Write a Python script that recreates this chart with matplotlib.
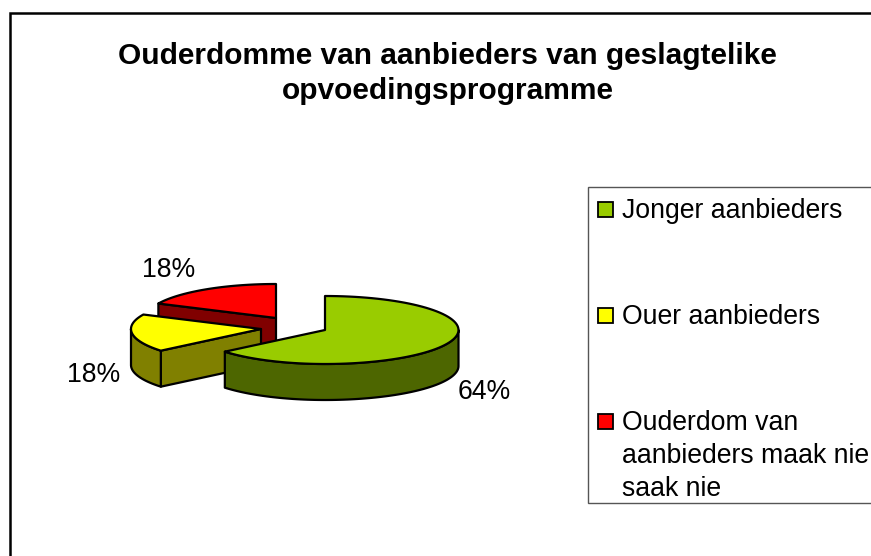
import numpy as np
import matplotlib
matplotlib.use("Agg")
import matplotlib.pyplot as plt
from matplotlib.patches import Polygon, Rectangle

title = "Ouderdomme van aanbieders van geslagtelike\nopvoedingsprogramme"
categories = ["Jonger aanbieders", "Ouer aanbieders", "Ouderdom van\naanbieders maak nie\nsaak nie"]
values = [64, 18, 18]
top_colors = ["#99CC00", "#FFFF00", "#FF0000"]
side_colors = ["#4D6600", "#808000", "#800000"]
centers = [(325, 330), (261, 329), (276, 318)]
label_pos = [(484, 392), (94, 375), (169, 270)]
legend_swatch_y = [210, 316, 422]
legend_text_y = [210.5, 316.5, 422.5]

plt.rcParams["font.family"] = ["Liberation Sans", "DejaVu Sans"]
fig = plt.figure(figsize=(8.71, 5.56), dpi=100)
ax = fig.add_axes([0, 0, 1, 1])
ax.set_xlim(0, 871)
ax.set_ylim(556, 0)
ax.axis("off")

RX_RIGHT, RX_LEFT, RY, DEPTH = 133.5, 130, 34, 36
EC = dict(edgecolor="black", linewidth=1.6, joinstyle="round")


def arc(c, a0, a1, dy=0):
    t = np.radians(np.linspace(a0, a1, 90))
    s = np.sin(t)
    return np.column_stack([c[0] + np.where(s >= 0, RX_RIGHT, RX_LEFT) * s,
                            c[1] - RY * np.cos(t) + dy])


fractions = np.array(values) / sum(values)
edges = np.concatenate([[0], np.cumsum(fractions) * 360])
# draw back to front: red, yellow, green
for i in [2, 1, 0]:
    a0, a1 = edges[i], edges[i + 1]
    c = centers[i]
    top = arc(c, a0, a1)
    z = 6 - 2 * i
    # cut wall facing the viewer, along the starting radius of the wedge
    if i in (1, 2):
        p = top[0]
        wall = [c, p, (p[0], p[1] + DEPTH), (c[0], c[1] + DEPTH)]
        ax.add_patch(Polygon(wall, closed=True, facecolor=side_colors[i], zorder=z, **EC))
    # outer rim wall, only where the rim faces downward
    lo, hi = max(a0, 90), min(a1, 270)
    if hi > lo:
        upper = arc(c, lo, hi)
        lower = arc(c, lo, hi, DEPTH)
        ax.add_patch(Polygon(np.vstack([upper, lower[::-1]]), closed=True,
                             facecolor=side_colors[i], zorder=z, **EC))
    ax.add_patch(Polygon(np.vstack([[c], top]), closed=True,
                         facecolor=top_colors[i], zorder=z + 0.5, **EC))

for v, (x, y) in zip(values, label_pos):
    ax.text(x, y, f"{v}%", ha="center", va="center", fontsize=19.2, color="black", zorder=20)

ax.text(447.5, 73.5, title, ha="center", va="center", fontsize=21.5, fontweight="bold",
        linespacing=1.36, color="black")

# chart frame (right and bottom edges fall outside the picture)
ax.plot([9.5, 9.5, 871], [556, 12.5, 12.5], color="black", lw=1.8, solid_joinstyle="miter", zorder=1)

# legend
ax.add_patch(Rectangle((587.5, 187), 300, 316, facecolor="white", edgecolor="#555555", lw=1, zorder=10))
for name, col, sy, ty in zip(categories, top_colors, legend_swatch_y, legend_text_y):
    ax.add_patch(Rectangle((597.5, sy - 8), 15, 15, facecolor=col, edgecolor="black", lw=1.3, zorder=11))
    first_line_offset = 0 if "\n" not in name else -12
    ax.text(622, ty + first_line_offset, name, ha="left", va="center" if "\n" not in name else "top",
            fontsize=19.2, linespacing=1.33, zorder=11, color="black")

fig.savefig("out.png", dpi=100, facecolor="white")
